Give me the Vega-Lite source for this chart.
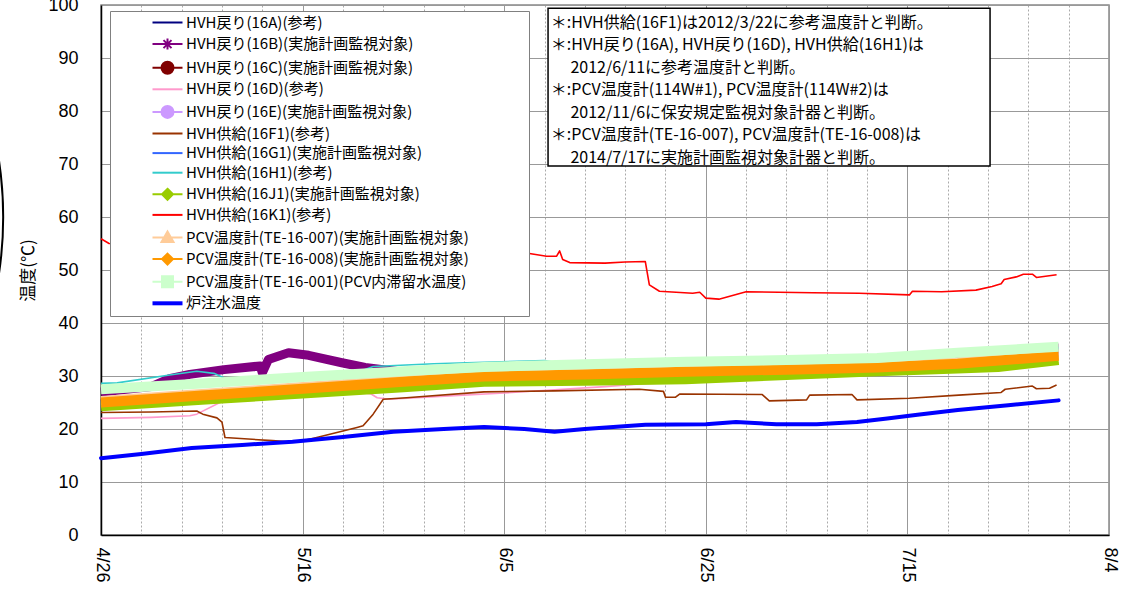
{
  "$schema": "https://vega.github.io/schema/vega-lite/v6.json",
  "width": 1008,
  "height": 530,
  "autosize": "none",
  "padding": {"left": 101, "top": 5, "right": 15, "bottom": 65},
  "background": "white",
  "config": {"view": {"stroke": "#888888", "strokeWidth": 1.5}, "font": "Noto Sans CJK JP"},
  "datasets": {
    "names": [
      {"k": "16A", "name": "HVH戻り(16A)(参考)"},
      {"k": "16B", "name": "HVH戻り(16B)(実施計画監視対象)"},
      {"k": "16C", "name": "HVH戻り(16C)(実施計画監視対象)"},
      {"k": "16D", "name": "HVH戻り(16D)(参考)"},
      {"k": "16E", "name": "HVH戻り(16E)(実施計画監視対象)"},
      {"k": "16F1", "name": "HVH供給(16F1)(参考)"},
      {"k": "16G1", "name": "HVH供給(16G1)(実施計画監視対象)"},
      {"k": "16H1", "name": "HVH供給(16H1)(参考)"},
      {"k": "16J1", "name": "HVH供給(16J1)(実施計画監視対象)"},
      {"k": "16K1", "name": "HVH供給(16K1)(参考)"},
      {"k": "TE007", "name": "PCV温度計(TE-16-007)(実施計画監視対象)"},
      {"k": "TE008", "name": "PCV温度計(TE-16-008)(実施計画監視対象)"},
      {"k": "TE001", "name": "PCV温度計(TE-16-001)(PCV内滞留水温度)"},
      {"k": "W", "name": "炉注水温度"}
    ],
    "note": [
      {"txt": "＊:HVH供給(16F1)は2012/3/22に参考温度計と判断。\n＊:HVH戻り(16A), HVH戻り(16D), HVH供給(16H1)は\n\u200B　 2012/6/11に参考温度計と判断。\n＊:PCV温度計(114W#1), PCV温度計(114W#2)は\n\u200B　 2012/11/6に保安規定監視対象計器と判断。\n＊:PCV温度計(TE-16-007), PCV温度計(TE-16-008)は\n\u200B　 2014/7/17に実施計画監視対象計器と判断。"}
    ],
    "temps": [
      {"k": "16A", "t": "2015-04-26T00:00", "v": 24.8},
      {"k": "16A", "t": "2015-05-16T00:00", "v": 27.4},
      {"k": "16A", "t": "2015-06-03T00:00", "v": 29.7},
      {"k": "16A", "t": "2015-06-23T00:00", "v": 30.6},
      {"k": "16A", "t": "2015-07-12T00:00", "v": 31.4},
      {"k": "16A", "t": "2015-07-30T00:00", "v": 33.6},

      {"k": "16B", "t": "2015-04-26T00:00", "v": 27.0},
      {"k": "16B", "t": "2015-05-01T00:00", "v": 28.0},
      {"k": "16B", "t": "2015-05-02T19:12", "v": 29.5},
      {"k": "16B", "t": "2015-05-04T19:12", "v": 30.3},
      {"k": "16B", "t": "2015-05-08T04:48", "v": 31.2},
      {"k": "16B", "t": "2015-05-11T19:12", "v": 31.9},
      {"k": "16B", "t": "2015-05-12T00:00", "v": 30.6},
      {"k": "16B", "t": "2015-05-12T14:24", "v": 33.1},
      {"k": "16B", "t": "2015-05-14T14:24", "v": 34.4},
      {"k": "16B", "t": "2015-05-16T14:24", "v": 33.9},
      {"k": "16B", "t": "2015-05-19T21:36", "v": 32.5},
      {"k": "16B", "t": "2015-05-22T04:48", "v": 31.6},
      {"k": "16B", "t": "2015-05-26T00:00", "v": 30.7},
      {"k": "16B", "t": "2015-06-03T00:00", "v": 31.5},
      {"k": "16B", "t": "2015-06-13T00:00", "v": 32.0},
      {"k": "16B", "t": "2015-06-23T00:00", "v": 32.5},
      {"k": "16B", "t": "2015-07-03T00:00", "v": 32.8},
      {"k": "16B", "t": "2015-07-12T00:00", "v": 33.2},
      {"k": "16B", "t": "2015-07-20T00:00", "v": 34.2},
      {"k": "16B", "t": "2015-07-30T00:00", "v": 35.3},

      {"k": "16C", "t": "2015-04-26T00:00", "v": 25.2},
      {"k": "16C", "t": "2015-05-16T00:00", "v": 27.7},
      {"k": "16C", "t": "2015-06-03T00:00", "v": 30.0},
      {"k": "16C", "t": "2015-06-23T00:00", "v": 30.9},
      {"k": "16C", "t": "2015-07-12T00:00", "v": 31.7},
      {"k": "16C", "t": "2015-07-30T00:00", "v": 33.9},

      {"k": "16D", "t": "2015-04-26T00:00", "v": 22.0},
      {"k": "16D", "t": "2015-05-01T00:00", "v": 22.2},
      {"k": "16D", "t": "2015-05-04T19:12", "v": 22.5},
      {"k": "16D", "t": "2015-05-05T12:00", "v": 22.8},
      {"k": "16D", "t": "2015-05-07T19:12", "v": 25.0},
      {"k": "16D", "t": "2015-05-10T00:00", "v": 26.5},
      {"k": "16D", "t": "2015-05-16T00:00", "v": 27.5},
      {"k": "16D", "t": "2015-05-21T00:00", "v": 27.2},
      {"k": "16D", "t": "2015-05-22T19:12", "v": 26.6},
      {"k": "16D", "t": "2015-05-23T09:36", "v": 25.9},
      {"k": "16D", "t": "2015-05-24T14:24", "v": 25.6},
      {"k": "16D", "t": "2015-05-31T00:00", "v": 26.3},
      {"k": "16D", "t": "2015-06-05T00:00", "v": 26.8},
      {"k": "16D", "t": "2015-06-10T00:00", "v": 27.4},
      {"k": "16D", "t": "2015-06-15T00:00", "v": 28.0},
      {"k": "16D", "t": "2015-06-18T09:36", "v": 28.5},
      {"k": "16D", "t": "2015-06-23T00:00", "v": 28.9},
      {"k": "16D", "t": "2015-06-30T00:00", "v": 29.6},
      {"k": "16D", "t": "2015-07-10T00:00", "v": 30.3},
      {"k": "16D", "t": "2015-07-20T00:00", "v": 31.0},
      {"k": "16D", "t": "2015-07-30T00:00", "v": 32.5},

      {"k": "16E", "t": "2015-04-26T00:00", "v": 25.4},
      {"k": "16E", "t": "2015-05-16T00:00", "v": 28.0},
      {"k": "16E", "t": "2015-06-03T00:00", "v": 30.2},
      {"k": "16E", "t": "2015-06-23T00:00", "v": 31.1},
      {"k": "16E", "t": "2015-07-12T00:00", "v": 31.9},
      {"k": "16E", "t": "2015-07-30T00:00", "v": 34.2},

      {"k": "16F1", "t": "2015-04-26T00:00", "v": 23.1},
      {"k": "16F1", "t": "2015-05-01T00:00", "v": 23.2},
      {"k": "16F1", "t": "2015-05-05T12:00", "v": 23.4},
      {"k": "16F1", "t": "2015-05-06T02:24", "v": 22.8},
      {"k": "16F1", "t": "2015-05-07T12:00", "v": 22.1},
      {"k": "16F1", "t": "2015-05-08T00:00", "v": 21.3},
      {"k": "16F1", "t": "2015-05-08T07:12", "v": 18.4},
      {"k": "16F1", "t": "2015-05-13T00:00", "v": 17.8},
      {"k": "16F1", "t": "2015-05-15T09:36", "v": 17.5},
      {"k": "16F1", "t": "2015-05-17T09:36", "v": 18.4},
      {"k": "16F1", "t": "2015-05-21T09:36", "v": 20.3},
      {"k": "16F1", "t": "2015-05-22T00:00", "v": 20.6},
      {"k": "16F1", "t": "2015-05-23T00:00", "v": 22.8},
      {"k": "16F1", "t": "2015-05-24T00:00", "v": 25.6},
      {"k": "16F1", "t": "2015-05-26T07:12", "v": 25.9},
      {"k": "16F1", "t": "2015-06-03T00:00", "v": 27.0},
      {"k": "16F1", "t": "2015-06-10T00:00", "v": 27.2},
      {"k": "16F1", "t": "2015-06-18T09:36", "v": 27.5},
      {"k": "16F1", "t": "2015-06-20T19:12", "v": 27.1},
      {"k": "16F1", "t": "2015-06-21T00:00", "v": 26.0},
      {"k": "16F1", "t": "2015-06-22T00:00", "v": 26.0},
      {"k": "16F1", "t": "2015-06-22T09:36", "v": 26.6},
      {"k": "16F1", "t": "2015-06-30T14:24", "v": 26.5},
      {"k": "16F1", "t": "2015-07-01T07:12", "v": 25.3},
      {"k": "16F1", "t": "2015-07-05T00:00", "v": 25.5},
      {"k": "16F1", "t": "2015-07-05T07:12", "v": 26.4},
      {"k": "16F1", "t": "2015-07-09T12:00", "v": 26.5},
      {"k": "16F1", "t": "2015-07-10T00:00", "v": 25.5},
      {"k": "16F1", "t": "2015-07-15T04:48", "v": 25.8},
      {"k": "16F1", "t": "2015-07-20T02:24", "v": 26.4},
      {"k": "16F1", "t": "2015-07-24T07:12", "v": 26.9},
      {"k": "16F1", "t": "2015-07-24T16:48", "v": 27.5},
      {"k": "16F1", "t": "2015-07-27T09:36", "v": 28.1},
      {"k": "16F1", "t": "2015-07-27T19:12", "v": 27.6},
      {"k": "16F1", "t": "2015-07-29T02:24", "v": 27.7},
      {"k": "16F1", "t": "2015-07-29T19:12", "v": 28.3},

      {"k": "16G1", "t": "2015-04-26T00:00", "v": 25.0},
      {"k": "16G1", "t": "2015-05-16T00:00", "v": 27.6},
      {"k": "16G1", "t": "2015-06-03T00:00", "v": 29.9},
      {"k": "16G1", "t": "2015-06-23T00:00", "v": 30.8},
      {"k": "16G1", "t": "2015-07-12T00:00", "v": 31.6},
      {"k": "16G1", "t": "2015-07-30T00:00", "v": 33.8},

      {"k": "16H1", "t": "2015-04-26T00:00", "v": 28.6},
      {"k": "16H1", "t": "2015-04-27T14:24", "v": 28.7},
      {"k": "16H1", "t": "2015-05-02T19:12", "v": 30.2},
      {"k": "16H1", "t": "2015-05-05T12:00", "v": 30.9},
      {"k": "16H1", "t": "2015-05-07T04:48", "v": 30.5},
      {"k": "16H1", "t": "2015-05-08T12:00", "v": 29.4},
      {"k": "16H1", "t": "2015-05-16T00:00", "v": 29.9},
      {"k": "16H1", "t": "2015-05-21T00:00", "v": 30.4},
      {"k": "16H1", "t": "2015-05-23T00:00", "v": 31.8},
      {"k": "16H1", "t": "2015-05-29T00:00", "v": 32.3},
      {"k": "16H1", "t": "2015-06-03T00:00", "v": 32.6},
      {"k": "16H1", "t": "2015-06-09T00:00", "v": 32.9},
      {"k": "16H1", "t": "2015-06-11T00:00", "v": 32.2},
      {"k": "16H1", "t": "2015-06-25T00:00", "v": 32.8},
      {"k": "16H1", "t": "2015-07-10T00:00", "v": 33.3},
      {"k": "16H1", "t": "2015-07-20T00:00", "v": 34.2},
      {"k": "16H1", "t": "2015-07-30T00:00", "v": 35.3},

      {"k": "16J1", "t": "2015-04-26T00:00", "v": 24.2},
      {"k": "16J1", "t": "2015-05-06T00:00", "v": 25.4},
      {"k": "16J1", "t": "2015-05-16T00:00", "v": 26.6},
      {"k": "16J1", "t": "2015-05-26T00:00", "v": 27.8},
      {"k": "16J1", "t": "2015-06-03T00:00", "v": 28.8},
      {"k": "16J1", "t": "2015-06-13T00:00", "v": 29.0},
      {"k": "16J1", "t": "2015-06-23T00:00", "v": 29.3},
      {"k": "16J1", "t": "2015-07-03T00:00", "v": 30.1},
      {"k": "16J1", "t": "2015-07-12T00:00", "v": 30.8},
      {"k": "16J1", "t": "2015-07-20T00:00", "v": 31.3},
      {"k": "16J1", "t": "2015-07-24T00:00", "v": 31.6},
      {"k": "16J1", "t": "2015-07-30T00:00", "v": 32.9},

      {"k": "16K1", "t": "2015-04-26T00:00", "v": 55.9},
      {"k": "16K1", "t": "2015-04-26T19:12", "v": 55.0},
      {"k": "16K1", "t": "2015-05-01T00:00", "v": 54.8},
      {"k": "16K1", "t": "2015-05-11T00:00", "v": 54.3},
      {"k": "16K1", "t": "2015-05-21T00:00", "v": 54.0},
      {"k": "16K1", "t": "2015-05-31T00:00", "v": 53.6},
      {"k": "16K1", "t": "2015-06-07T12:00", "v": 53.1},
      {"k": "16K1", "t": "2015-06-09T04:48", "v": 52.6},
      {"k": "16K1", "t": "2015-06-10T04:48", "v": 52.6},
      {"k": "16K1", "t": "2015-06-10T12:00", "v": 53.6},
      {"k": "16K1", "t": "2015-06-10T19:12", "v": 52.0},
      {"k": "16K1", "t": "2015-06-11T12:00", "v": 51.4},
      {"k": "16K1", "t": "2015-06-15T00:00", "v": 51.3},
      {"k": "16K1", "t": "2015-06-17T00:00", "v": 51.5},
      {"k": "16K1", "t": "2015-06-19T00:00", "v": 51.6},
      {"k": "16K1", "t": "2015-06-19T09:36", "v": 47.2},
      {"k": "16K1", "t": "2015-06-20T09:36", "v": 46.0},
      {"k": "16K1", "t": "2015-06-23T16:48", "v": 45.6},
      {"k": "16K1", "t": "2015-06-24T09:36", "v": 45.8},
      {"k": "16K1", "t": "2015-06-25T00:00", "v": 44.7},
      {"k": "16K1", "t": "2015-06-26T07:12", "v": 44.5},
      {"k": "16K1", "t": "2015-06-29T00:00", "v": 45.9},
      {"k": "16K1", "t": "2015-07-05T14:24", "v": 45.7},
      {"k": "16K1", "t": "2015-07-10T04:48", "v": 45.6},
      {"k": "16K1", "t": "2015-07-15T04:48", "v": 45.3},
      {"k": "16K1", "t": "2015-07-15T12:00", "v": 46.0},
      {"k": "16K1", "t": "2015-07-18T09:36", "v": 45.9},
      {"k": "16K1", "t": "2015-07-21T19:12", "v": 46.2},
      {"k": "16K1", "t": "2015-07-23T09:36", "v": 46.9},
      {"k": "16K1", "t": "2015-07-24T07:12", "v": 47.4},
      {"k": "16K1", "t": "2015-07-24T14:24", "v": 48.2},
      {"k": "16K1", "t": "2015-07-25T19:12", "v": 48.7},
      {"k": "16K1", "t": "2015-07-26T12:00", "v": 49.2},
      {"k": "16K1", "t": "2015-07-27T09:36", "v": 49.2},
      {"k": "16K1", "t": "2015-07-27T19:12", "v": 48.6},
      {"k": "16K1", "t": "2015-07-29T19:12", "v": 49.1},

      {"k": "TE007", "t": "2015-04-26T00:00", "v": 25.4},
      {"k": "TE007", "t": "2015-05-06T00:00", "v": 26.7},
      {"k": "TE007", "t": "2015-05-16T00:00", "v": 28.0},
      {"k": "TE007", "t": "2015-05-26T00:00", "v": 29.3},
      {"k": "TE007", "t": "2015-06-03T00:00", "v": 30.3},
      {"k": "TE007", "t": "2015-06-13T00:00", "v": 30.7},
      {"k": "TE007", "t": "2015-06-23T00:00", "v": 31.2},
      {"k": "TE007", "t": "2015-07-03T00:00", "v": 31.6},
      {"k": "TE007", "t": "2015-07-12T00:00", "v": 32.0},
      {"k": "TE007", "t": "2015-07-20T00:00", "v": 32.7},
      {"k": "TE007", "t": "2015-07-30T00:00", "v": 34.2},

      {"k": "TE008", "t": "2015-04-26T00:00", "v": 25.0},
      {"k": "TE008", "t": "2015-05-06T00:00", "v": 26.3},
      {"k": "TE008", "t": "2015-05-16T00:00", "v": 27.6},
      {"k": "TE008", "t": "2015-05-26T00:00", "v": 28.9},
      {"k": "TE008", "t": "2015-06-03T00:00", "v": 29.9},
      {"k": "TE008", "t": "2015-06-13T00:00", "v": 30.3},
      {"k": "TE008", "t": "2015-06-23T00:00", "v": 30.8},
      {"k": "TE008", "t": "2015-07-03T00:00", "v": 31.2},
      {"k": "TE008", "t": "2015-07-12T00:00", "v": 31.6},
      {"k": "TE008", "t": "2015-07-20T00:00", "v": 32.3},
      {"k": "TE008", "t": "2015-07-30T00:00", "v": 33.8},

      {"k": "TE001", "t": "2015-04-26T00:00", "v": 27.5},
      {"k": "TE001", "t": "2015-05-06T00:00", "v": 28.6},
      {"k": "TE001", "t": "2015-05-16T00:00", "v": 29.8},
      {"k": "TE001", "t": "2015-05-26T00:00", "v": 30.9},
      {"k": "TE001", "t": "2015-06-03T00:00", "v": 31.7},
      {"k": "TE001", "t": "2015-06-13T00:00", "v": 32.2},
      {"k": "TE001", "t": "2015-06-23T00:00", "v": 32.7},
      {"k": "TE001", "t": "2015-07-03T00:00", "v": 33.0},
      {"k": "TE001", "t": "2015-07-12T00:00", "v": 33.4},
      {"k": "TE001", "t": "2015-07-20T00:00", "v": 34.4},
      {"k": "TE001", "t": "2015-07-30T00:00", "v": 35.5},

      {"k": "W", "t": "2015-04-26T00:00", "v": 14.5},
      {"k": "W", "t": "2015-04-30T00:00", "v": 15.3},
      {"k": "W", "t": "2015-05-05T00:00", "v": 16.4},
      {"k": "W", "t": "2015-05-10T00:00", "v": 17.0},
      {"k": "W", "t": "2015-05-15T00:00", "v": 17.6},
      {"k": "W", "t": "2015-05-20T00:00", "v": 18.5},
      {"k": "W", "t": "2015-05-25T00:00", "v": 19.5},
      {"k": "W", "t": "2015-05-30T00:00", "v": 20.0},
      {"k": "W", "t": "2015-06-03T00:00", "v": 20.4},
      {"k": "W", "t": "2015-06-07T00:00", "v": 20.0},
      {"k": "W", "t": "2015-06-10T00:00", "v": 19.5},
      {"k": "W", "t": "2015-06-13T00:00", "v": 20.0},
      {"k": "W", "t": "2015-06-19T00:00", "v": 20.8},
      {"k": "W", "t": "2015-06-25T00:00", "v": 20.9},
      {"k": "W", "t": "2015-06-28T00:00", "v": 21.3},
      {"k": "W", "t": "2015-07-02T00:00", "v": 20.9},
      {"k": "W", "t": "2015-07-06T00:00", "v": 20.9},
      {"k": "W", "t": "2015-07-10T00:00", "v": 21.3},
      {"k": "W", "t": "2015-07-13T00:00", "v": 22.0},
      {"k": "W", "t": "2015-07-16T00:00", "v": 22.7},
      {"k": "W", "t": "2015-07-20T00:00", "v": 23.6},
      {"k": "W", "t": "2015-07-25T00:00", "v": 24.5},
      {"k": "W", "t": "2015-07-30T00:00", "v": 25.4}
    ]
  },
  "layer": [
    {
      "data": {"name": "temps"},
      "transform": [
        {"lookup": "k", "from": {"data": {"name": "names"}, "key": "k", "fields": ["name"]}}
      ],
      "encoding": {
        "x": {
          "field": "t",
          "type": "temporal",
          "scale": {"domain": [{"year": 2015, "month": 4, "date": 26}, {"year": 2015, "month": 8, "date": 4}], "nice": false},
          "axis": {
            "title": null,
            "values": [
              {"year": 2015, "month": 4, "date": 26}, {"year": 2015, "month": 4, "date": 28}, {"year": 2015, "month": 4, "date": 30},
              {"year": 2015, "month": 5, "date": 2}, {"year": 2015, "month": 5, "date": 4}, {"year": 2015, "month": 5, "date": 6},
              {"year": 2015, "month": 5, "date": 8}, {"year": 2015, "month": 5, "date": 10}, {"year": 2015, "month": 5, "date": 12},
              {"year": 2015, "month": 5, "date": 14}, {"year": 2015, "month": 5, "date": 16}, {"year": 2015, "month": 5, "date": 18},
              {"year": 2015, "month": 5, "date": 20}, {"year": 2015, "month": 5, "date": 22}, {"year": 2015, "month": 5, "date": 24},
              {"year": 2015, "month": 5, "date": 26}, {"year": 2015, "month": 5, "date": 28}, {"year": 2015, "month": 5, "date": 30},
              {"year": 2015, "month": 6, "date": 1}, {"year": 2015, "month": 6, "date": 3}, {"year": 2015, "month": 6, "date": 5},
              {"year": 2015, "month": 6, "date": 7}, {"year": 2015, "month": 6, "date": 9}, {"year": 2015, "month": 6, "date": 11},
              {"year": 2015, "month": 6, "date": 13}, {"year": 2015, "month": 6, "date": 15}, {"year": 2015, "month": 6, "date": 17},
              {"year": 2015, "month": 6, "date": 19}, {"year": 2015, "month": 6, "date": 21}, {"year": 2015, "month": 6, "date": 23},
              {"year": 2015, "month": 6, "date": 25}, {"year": 2015, "month": 6, "date": 27}, {"year": 2015, "month": 6, "date": 29},
              {"year": 2015, "month": 7, "date": 1}, {"year": 2015, "month": 7, "date": 3}, {"year": 2015, "month": 7, "date": 5},
              {"year": 2015, "month": 7, "date": 7}, {"year": 2015, "month": 7, "date": 9}, {"year": 2015, "month": 7, "date": 11},
              {"year": 2015, "month": 7, "date": 13}, {"year": 2015, "month": 7, "date": 15}, {"year": 2015, "month": 7, "date": 17},
              {"year": 2015, "month": 7, "date": 19}, {"year": 2015, "month": 7, "date": 21}, {"year": 2015, "month": 7, "date": 23},
              {"year": 2015, "month": 7, "date": 25}, {"year": 2015, "month": 7, "date": 27}, {"year": 2015, "month": 7, "date": 29},
              {"year": 2015, "month": 7, "date": 31}, {"year": 2015, "month": 8, "date": 2}, {"year": 2015, "month": 8, "date": 4}
            ],
            "labelExpr": "round((datum.value - datetime(2015, 3, 26)) / 86400000) % 10 == 0 ? timeFormat(datum.value, '%-m/%-d') : ''",
            "labelOverlap": false,
            "labelBound": false,
            "labelFlush": false,
            "labelAngle": 90,
            "labelAlign": "left",
            "labelBaseline": "middle",
            "labelPadding": 12,
            "labelFont": "Liberation Sans",
            "labelFontSize": 18,
            "labelColor": "black",
            "ticks": false,
            "domainColor": "black",
            "domainWidth": 1.5,
            "grid": true,
            "gridColor": {"condition": {"test": "round((datum.value - datetime(2015, 3, 26)) / 86400000) % 10 == 0", "value": "#999999"}, "value": "#aaaaaa"},
            "gridDash": {"condition": {"test": "round((datum.value - datetime(2015, 3, 26)) / 86400000) % 10 == 0", "value": []}, "value": [2, 2]},
            "gridWidth": 1
          }
        },
        "y": {
          "field": "v",
          "type": "quantitative",
          "scale": {"domain": [0, 100], "nice": false},
          "axis": {
            "title": "温度(℃)",
            "values": [0, 10, 20, 30, 40, 50, 60, 70, 80, 90, 100],
            "grid": true,
            "gridColor": "#999999",
            "ticks": false,
            "labelPadding": 23,
            "labelFont": "Liberation Sans",
            "labelFontSize": 18,
            "labelColor": "black",
            "domainColor": "black",
            "domainWidth": 1.5,
            "titleFont": "Noto Sans CJK JP",
            "titleFontSize": 17,
            "titleFontWeight": "normal",
            "titleColor": "black",
            "titlePadding": 10
          }
        },
        "color": {
          "field": "name",
          "type": "nominal",
          "scale": {
            "domain": ["HVH戻り(16A)(参考)", "HVH戻り(16B)(実施計画監視対象)", "HVH戻り(16C)(実施計画監視対象)", "HVH戻り(16D)(参考)", "HVH戻り(16E)(実施計画監視対象)", "HVH供給(16F1)(参考)", "HVH供給(16G1)(実施計画監視対象)", "HVH供給(16H1)(参考)", "HVH供給(16J1)(実施計画監視対象)", "HVH供給(16K1)(参考)", "PCV温度計(TE-16-007)(実施計画監視対象)", "PCV温度計(TE-16-008)(実施計画監視対象)", "PCV温度計(TE-16-001)(PCV内滞留水温度)", "炉注水温度"],
            "range": ["#000080", "#800080", "#800000", "#FF99CC", "#CC99FF", "#993300", "#3366FF", "#33CCCC", "#99CC00", "#FF0000", "#FFCC99", "#FF9900", "#CCFFCC", "#0000FF"]
          },
          "legend": {
            "title": null,
            "orient": "none",
            "legendX": 9,
            "legendY": 6,
            "fillColor": "white",
            "strokeColor": "#808080",
            "padding": 4,
            "rowPadding": 3.6,
            "symbolSize": 400,
            "symbolStrokeWidth": 2,
            "symbolOffset": 46,
            "labelOffset": 11,
            "labelFont": "Noto Sans CJK JP",
            "labelFontSize": 15,
            "labelColor": "black",
            "labelLimit": 600,
            "encode": {
              "labels": {
                "update": {
                  "text": {"signal": "datum.label + '　　　\u2002\u2009\u200B'"}
                }
              },
              "symbols": {
                "update": {
                  "shape": {"signal": "['M-1.5,0H1.5','M-1.5,0H1.5M-0.4,-0.4L0.4,0.4M-0.4,0.4L0.4,-0.4M0,-0.55V0.55','M-1.5,0H1.5M-0.6,0A0.6,0.6 0 1 0 0.6,0A0.6,0.6 0 1 0 -0.6,0Z','M-1.5,0H1.5','M-1.5,0H1.5M-0.6,0A0.6,0.6 0 1 0 0.6,0A0.6,0.6 0 1 0 -0.6,0Z','M-1.5,0H1.5','M-1.5,0H1.5','M-1.5,0H1.5','M-1.5,0H1.5M0,-0.55L0.55,0L0,0.55L-0.55,0Z','M-1.5,0H1.5','M-1.5,0H1.5M0,-0.6L0.6,0.45L-0.6,0.45Z','M-1.5,0H1.5M0,-0.55L0.55,0L0,0.55L-0.55,0Z','M-1.5,0H1.5M-0.55,-0.55H0.55V0.55H-0.55Z','M-1.5,0H1.5'][indexof(['HVH戻り(16A)(参考)','HVH戻り(16B)(実施計画監視対象)','HVH戻り(16C)(実施計画監視対象)','HVH戻り(16D)(参考)','HVH戻り(16E)(実施計画監視対象)','HVH供給(16F1)(参考)','HVH供給(16G1)(実施計画監視対象)','HVH供給(16H1)(参考)','HVH供給(16J1)(実施計画監視対象)','HVH供給(16K1)(参考)','PCV温度計(TE-16-007)(実施計画監視対象)','PCV温度計(TE-16-008)(実施計画監視対象)','PCV温度計(TE-16-001)(PCV内滞留水温度)','炉注水温度'], datum.value)]"},
                  "fill": {"scale": "color", "field": "value"},
                  "stroke": {"scale": "color", "field": "value"},
                  "strokeWidth": {"signal": "datum.value === '炉注水温度' ? 4 : 2"},
                  "opacity": {"value": 1}
                }
              }
            }
          }
        }
      },
      "layer": [
        {
          "transform": [{"filter": {"field": "k", "oneOf": ["16B"]}}],
          "mark": {"type": "line", "strokeWidth": 9, "strokeCap": "butt", "strokeJoin": "round"}
        },
        {
          "transform": [{"filter": {"field": "k", "oneOf": ["16C", "16E"]}}],
          "mark": {"type": "line", "strokeWidth": 6, "strokeCap": "butt", "strokeJoin": "round"}
        },
        {
          "transform": [{"filter": {"field": "k", "oneOf": ["16A", "16D", "16F1", "16G1", "16H1", "16K1"]}}],
          "mark": {"type": "line", "strokeWidth": 1.6, "strokeCap": "butt", "strokeJoin": "round"}
        },
        {
          "transform": [{"filter": {"field": "k", "oneOf": ["16J1", "TE007"]}}],
          "mark": {"type": "line", "strokeWidth": 9, "strokeCap": "butt", "strokeJoin": "round"}
        },
        {
          "transform": [{"filter": {"field": "k", "oneOf": ["TE008", "TE001"]}}],
          "mark": {"type": "line", "strokeWidth": 10, "strokeCap": "butt", "strokeJoin": "round"}
        },
        {
          "transform": [{"filter": {"field": "k", "oneOf": ["W"]}}],
          "mark": {"type": "line", "strokeWidth": 4, "strokeCap": "round", "strokeJoin": "round"}
        }
      ]
    },
    {
      "data": {"name": "note"},
      "mark": {"type": "rect", "fill": "white", "stroke": "black", "strokeWidth": 1.5},
      "encoding": {
        "x": {"datum": {"year": 2015, "month": 6, "date": 9, "hours": 8, "minutes": 24}, "type": "temporal"},
        "x2": {"datum": {"year": 2015, "month": 7, "date": 23, "hours": 4, "minutes": 48}},
        "y": {"datum": 99.4, "type": "quantitative"},
        "y2": {"datum": 69.6}
      }
    },
    {
      "data": {"name": "note"},
      "mark": {"type": "text", "align": "left", "baseline": "top", "lineBreak": "\n", "lineHeight": 22.5, "font": "Noto Sans CJK JP", "fontSize": 16, "color": "black"},
      "encoding": {
        "x": {"datum": {"year": 2015, "month": 6, "date": 9, "hours": 15, "minutes": 0}, "type": "temporal"},
        "y": {"datum": 98.2, "type": "quantitative"},
        "text": {"field": "txt"}
      }
    },
    {
      "data": {"name": "note"},
      "mark": {"type": "point", "shape": "M-1,0A1,1 0 1 0 1,0A1,1 0 1 0 -1,0Z", "size": 556516, "filled": false, "stroke": "black", "strokeWidth": 2, "opacity": 1, "clip": false},
      "encoding": {
        "x": {"datum": {"year": 2015, "month": 3, "date": 10, "hours": 7}, "type": "temporal"},
        "y": {"datum": 60, "type": "quantitative"}
      }
    }
  ]
}
